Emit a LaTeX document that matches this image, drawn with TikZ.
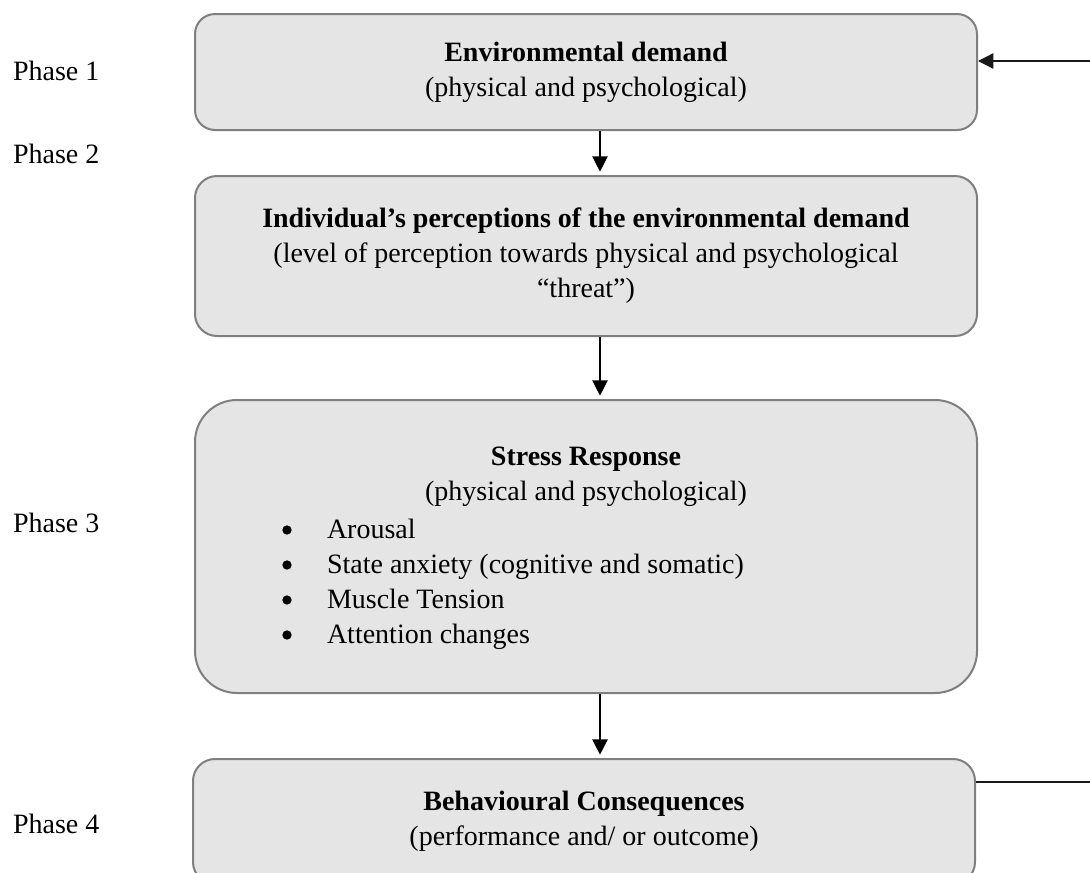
\documentclass[tikz,border=0pt]{standalone}
\usepackage{fontspec}
\setmainfont{Liberation Serif}
\usetikzlibrary{arrows.meta}
\definecolor{boxfill}{HTML}{E5E5E5}
\definecolor{boxline}{HTML}{7F7F7F}
\tikzset{
  txt/.style={font=\fontsize{21}{26.25}\selectfont, inner sep=0pt, outer sep=0pt},
  phasebox/.style={draw=boxline, fill=boxfill, line width=1.5pt,
    minimum width=586.5pt, align=center, inner sep=0pt,
    font=\fontsize{21}{26.25}\selectfont},
  dot/.style={circle, fill=black, inner sep=0pt, minimum size=7pt},
  flow/.style={line width=1pt, draw=black,
    -{Triangle[width=11.5pt,length=11.5pt]}, shorten >=2.5pt},
  link/.style={line width=1pt, draw=black!90},
}
\begin{document}
\begin{tikzpicture}[x=0.75pt, y=-0.75pt]
\useasboundingbox (0,0) rectangle (1090,872);

% the four phase boxes
\node[phasebox, minimum height=87pt, rounded corners=15pt] (b1) at (586,72)
  {\textbf{Environmental demand}\\(physical and psychological)};
\node[phasebox, minimum height=120pt, rounded corners=16.5pt] (b2) at (586,256)
  {\textbf{Individual’s perceptions of the environmental demand}\\
   (level of perception towards physical and psychological\\“threat”)};
\node[phasebox, minimum height=219.75pt, rounded corners=31.5pt] (b3) at (586,546.5) {};
\node[phasebox, minimum height=93.75pt, rounded corners=16.5pt] (b4) at (584,821.5)
  {\textbf{Behavioural Consequences}\\(performance and/ or outcome)};

% contents of the stress-response box
\node[txt, align=center] (b3head) at (586,477)
  {\textbf{Stress Response}\\(physical and psychological)};
\node[txt, align=left, anchor=west] (b3list) at (327,584)
  {Arousal\\
   State anxiety (cognitive and somatic)\\
   Muscle Tension\\
   Attention changes};
\foreach \i/\yy in {1/530, 2/565, 3/600, 4/635}
  \node[dot] (dot\i) at (287,\yy) {};

% phase labels
\node[txt, anchor=west] (p1) at (13,71) {Phase 1};
\node[txt, anchor=west] (p2) at (13,154) {Phase 2};
\node[txt, anchor=west] (p3) at (13,523) {Phase 3};
\node[txt, anchor=west] (p4) at (13,824) {Phase 4};

% vertical flow
\coordinate (ax) at (600,0);
\draw[flow] (b1.south -| ax) -- (b2.north -| ax);
\draw[flow] (b2.south -| ax) -- (b3.north -| ax);
\draw[flow] (b3.south -| ax) -- (b4.north -| ax);

% feedback line on the right
\coordinate (inR) at (1090,61);
\coordinate (outR) at (1090,782);
\draw[link, -{Triangle[width=11.5pt,length=11.5pt]}] (inR) -- (inR -| b1.east);
\draw[link] (b4.east |- outR) -- (outR);
\end{tikzpicture}
\end{document}
